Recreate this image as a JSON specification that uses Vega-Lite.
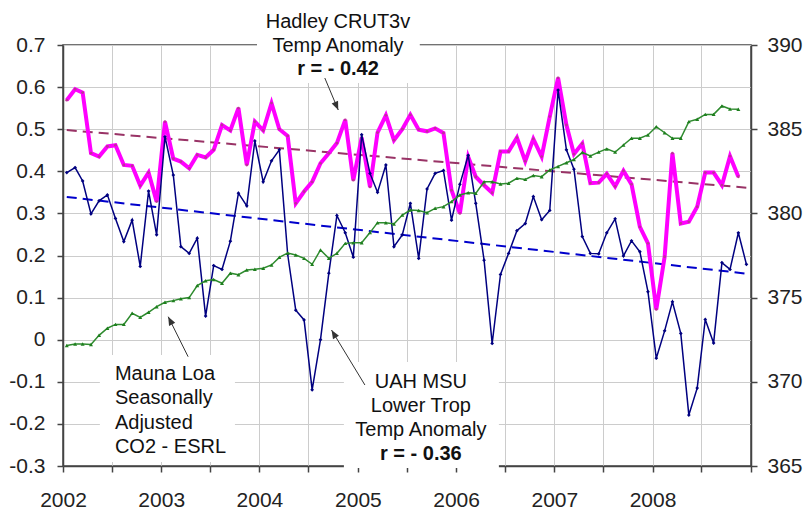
{
  "$schema": "https://vega.github.io/schema/vega-lite/v6.json",
  "width": 688,
  "height": 421,
  "autosize": {"type": "none"},
  "padding": {"left": 63, "top": 45, "right": 55, "bottom": 46},
  "background": "white",
  "config": {
    "view": {"stroke": "#444", "strokeWidth": 1.5},
    "axis": {"labelFont": "Liberation Sans", "labelFontSize": 21, "labelColor": "#222", "domainColor": "#444", "domainWidth": 1.5, "tickColor": "#444", "tickWidth": 1.5, "tickSize": 6, "gridColor": "#cccccc", "gridWidth": 1},
    "text": {"font": "Liberation Sans", "fontSize": 20, "color": "#111"}
  },
  "datasets": {
    "hadley": [
      {"date":"2002-01-15","value":0.569},{"date":"2002-02-15","value":0.595},{"date":"2002-03-15","value":0.587},{"date":"2002-04-15","value":0.443},{"date":"2002-05-15","value":0.435},{"date":"2002-06-15","value":0.459},{"date":"2002-07-15","value":0.462},{"date":"2002-08-15","value":0.415},{"date":"2002-09-15","value":0.413},{"date":"2002-10-15","value":0.366},{"date":"2002-11-15","value":0.397},{"date":"2002-12-15","value":0.328},
      {"date":"2003-01-15","value":0.518},{"date":"2003-02-15","value":0.430},{"date":"2003-03-15","value":0.423},{"date":"2003-04-15","value":0.407},{"date":"2003-05-15","value":0.439},{"date":"2003-06-15","value":0.433},{"date":"2003-07-15","value":0.451},{"date":"2003-08-15","value":0.510},{"date":"2003-09-15","value":0.497},{"date":"2003-10-15","value":0.550},{"date":"2003-11-15","value":0.415},{"date":"2003-12-15","value":0.518},
      {"date":"2004-01-15","value":0.497},{"date":"2004-02-15","value":0.562},{"date":"2004-03-15","value":0.500},{"date":"2004-04-15","value":0.484},{"date":"2004-05-15","value":0.324},{"date":"2004-06-15","value":0.352},{"date":"2004-07-15","value":0.375},{"date":"2004-08-15","value":0.419},{"date":"2004-09-15","value":0.443},{"date":"2004-10-15","value":0.467},{"date":"2004-11-15","value":0.522},{"date":"2004-12-15","value":0.379},
      {"date":"2005-01-15","value":0.480},{"date":"2005-02-15","value":0.363},{"date":"2005-03-15","value":0.492},{"date":"2005-04-15","value":0.533},{"date":"2005-05-15","value":0.474},{"date":"2005-06-15","value":0.500},{"date":"2005-07-15","value":0.534},{"date":"2005-08-15","value":0.499},{"date":"2005-09-15","value":0.495},{"date":"2005-10-15","value":0.502},{"date":"2005-11-15","value":0.491},{"date":"2005-12-15","value":0.355},
      {"date":"2006-01-15","value":0.300},{"date":"2006-02-15","value":0.434},{"date":"2006-03-15","value":0.387},{"date":"2006-04-15","value":0.367},{"date":"2006-05-15","value":0.349},{"date":"2006-06-15","value":0.447},{"date":"2006-07-15","value":0.447},{"date":"2006-08-15","value":0.480},{"date":"2006-09-15","value":0.424},{"date":"2006-10-15","value":0.477},{"date":"2006-11-15","value":0.435},{"date":"2006-12-15","value":0.530},
      {"date":"2007-01-15","value":0.622},{"date":"2007-02-15","value":0.510},{"date":"2007-03-15","value":0.441},{"date":"2007-04-15","value":0.466},{"date":"2007-05-15","value":0.372},{"date":"2007-06-15","value":0.373},{"date":"2007-07-15","value":0.394},{"date":"2007-08-15","value":0.364},{"date":"2007-09-15","value":0.401},{"date":"2007-10-15","value":0.369},{"date":"2007-11-15","value":0.268},{"date":"2007-12-15","value":0.229},
      {"date":"2008-01-15","value":0.072},{"date":"2008-02-15","value":0.197},{"date":"2008-03-15","value":0.443},{"date":"2008-04-15","value":0.276},{"date":"2008-05-15","value":0.280},{"date":"2008-06-15","value":0.316},{"date":"2008-07-15","value":0.397},{"date":"2008-08-15","value":0.397},{"date":"2008-09-15","value":0.367},{"date":"2008-10-15","value":0.436},{"date":"2008-11-15","value":0.387}
    ],
    "uah": [
      {"date":"2002-01-15","value":0.397},{"date":"2002-02-15","value":0.409},{"date":"2002-03-15","value":0.377},{"date":"2002-04-15","value":0.299},{"date":"2002-05-15","value":0.330},{"date":"2002-06-15","value":0.344},{"date":"2002-07-15","value":0.288},{"date":"2002-08-15","value":0.233},{"date":"2002-09-15","value":0.284},{"date":"2002-10-15","value":0.174},{"date":"2002-11-15","value":0.353},{"date":"2002-12-15","value":0.249},
      {"date":"2003-01-15","value":0.482},{"date":"2003-02-15","value":0.391},{"date":"2003-03-15","value":0.221},{"date":"2003-04-15","value":0.205},{"date":"2003-05-15","value":0.241},{"date":"2003-06-15","value":0.056},{"date":"2003-07-15","value":0.176},{"date":"2003-08-15","value":0.167},{"date":"2003-09-15","value":0.234},{"date":"2003-10-15","value":0.348},{"date":"2003-11-15","value":0.318},{"date":"2003-12-15","value":0.472},
      {"date":"2004-01-15","value":0.375},{"date":"2004-02-15","value":0.425},{"date":"2004-03-15","value":0.451},{"date":"2004-04-15","value":0.203},{"date":"2004-05-15","value":0.070},{"date":"2004-06-15","value":0.047},{"date":"2004-07-15","value":-0.119},{"date":"2004-08-15","value":0.000},{"date":"2004-09-15","value":0.158},{"date":"2004-10-15","value":0.295},{"date":"2004-11-15","value":0.254},{"date":"2004-12-15","value":0.196},
      {"date":"2005-01-15","value":0.487},{"date":"2005-02-15","value":0.395},{"date":"2005-03-15","value":0.350},{"date":"2005-04-15","value":0.415},{"date":"2005-05-15","value":0.221},{"date":"2005-06-15","value":0.249},{"date":"2005-07-15","value":0.324},{"date":"2005-08-15","value":0.193},{"date":"2005-09-15","value":0.358},{"date":"2005-10-15","value":0.395},{"date":"2005-11-15","value":0.402},{"date":"2005-12-15","value":0.284},
      {"date":"2006-01-15","value":0.369},{"date":"2006-02-15","value":0.438},{"date":"2006-03-15","value":0.324},{"date":"2006-04-15","value":0.189},{"date":"2006-05-15","value":-0.009},{"date":"2006-06-15","value":0.155},{"date":"2006-07-15","value":0.205},{"date":"2006-08-15","value":0.259},{"date":"2006-09-15","value":0.276},{"date":"2006-10-15","value":0.340},{"date":"2006-11-15","value":0.285},{"date":"2006-12-15","value":0.307},
      {"date":"2007-01-15","value":0.593},{"date":"2007-02-15","value":0.451},{"date":"2007-03-15","value":0.405},{"date":"2007-04-15","value":0.245},{"date":"2007-05-15","value":0.205},{"date":"2007-06-15","value":0.204},{"date":"2007-07-15","value":0.254},{"date":"2007-08-15","value":0.287},{"date":"2007-09-15","value":0.199},{"date":"2007-10-15","value":0.235},{"date":"2007-11-15","value":0.209},{"date":"2007-12-15","value":0.114},
      {"date":"2008-01-15","value":-0.044},{"date":"2008-02-15","value":0.021},{"date":"2008-03-15","value":0.090},{"date":"2008-04-15","value":0.015},{"date":"2008-05-15","value":-0.179},{"date":"2008-06-15","value":-0.115},{"date":"2008-07-15","value":0.048},{"date":"2008-08-15","value":-0.008},{"date":"2008-09-15","value":0.183},{"date":"2008-10-15","value":0.167},{"date":"2008-11-15","value":0.254},{"date":"2008-12-15","value":0.179}
    ],
    "co2": [
      {"date":"2002-01-15","ppm":372.15},{"date":"2002-02-15","ppm":372.24},{"date":"2002-03-15","ppm":372.24},{"date":"2002-04-15","ppm":372.22},{"date":"2002-05-15","ppm":372.76},{"date":"2002-06-15","ppm":373.18},{"date":"2002-07-15","ppm":373.41},{"date":"2002-08-15","ppm":373.41},{"date":"2002-09-15","ppm":374.07},{"date":"2002-10-15","ppm":373.83},{"date":"2002-11-15","ppm":374.13},{"date":"2002-12-15","ppm":374.46},
      {"date":"2003-01-15","ppm":374.72},{"date":"2003-02-15","ppm":374.82},{"date":"2003-03-15","ppm":374.93},{"date":"2003-04-15","ppm":375.00},{"date":"2003-05-15","ppm":375.72},{"date":"2003-06-15","ppm":376.00},{"date":"2003-07-15","ppm":376.07},{"date":"2003-08-15","ppm":375.85},{"date":"2003-09-15","ppm":376.45},{"date":"2003-10-15","ppm":376.36},{"date":"2003-11-15","ppm":376.64},{"date":"2003-12-15","ppm":376.68},
      {"date":"2004-01-15","ppm":376.74},{"date":"2004-02-15","ppm":376.94},{"date":"2004-03-15","ppm":377.39},{"date":"2004-04-15","ppm":377.65},{"date":"2004-05-15","ppm":377.53},{"date":"2004-06-15","ppm":377.33},{"date":"2004-07-15","ppm":376.98},{"date":"2004-08-15","ppm":377.83},{"date":"2004-09-15","ppm":377.33},{"date":"2004-10-15","ppm":377.63},{"date":"2004-11-15","ppm":378.22},{"date":"2004-12-15","ppm":378.26},
      {"date":"2005-01-15","ppm":378.26},{"date":"2005-02-15","ppm":378.86},{"date":"2005-03-15","ppm":379.45},{"date":"2005-04-15","ppm":379.45},{"date":"2005-05-15","ppm":379.37},{"date":"2005-06-15","ppm":379.90},{"date":"2005-07-15","ppm":380.20},{"date":"2005-08-15","ppm":380.17},{"date":"2005-09-15","ppm":380.04},{"date":"2005-10-15","ppm":380.30},{"date":"2005-11-15","ppm":380.40},{"date":"2005-12-15","ppm":380.70},
      {"date":"2006-01-15","ppm":381.09},{"date":"2006-02-15","ppm":381.23},{"date":"2006-03-15","ppm":381.19},{"date":"2006-04-15","ppm":381.88},{"date":"2006-05-15","ppm":381.88},{"date":"2006-06-15","ppm":381.75},{"date":"2006-07-15","ppm":381.79},{"date":"2006-08-15","ppm":382.08},{"date":"2006-09-15","ppm":382.02},{"date":"2006-10-15","ppm":382.25},{"date":"2006-11-15","ppm":382.18},{"date":"2006-12-15","ppm":382.58},
      {"date":"2007-01-15","ppm":382.79},{"date":"2007-02-15","ppm":383.01},{"date":"2007-03-15","ppm":383.20},{"date":"2007-04-15","ppm":383.62},{"date":"2007-05-15","ppm":383.41},{"date":"2007-06-15","ppm":383.64},{"date":"2007-07-15","ppm":383.83},{"date":"2007-08-15","ppm":383.64},{"date":"2007-09-15","ppm":384.06},{"date":"2007-10-15","ppm":384.46},{"date":"2007-11-15","ppm":384.46},{"date":"2007-12-15","ppm":384.66},
      {"date":"2008-01-15","ppm":385.15},{"date":"2008-02-15","ppm":384.79},{"date":"2008-03-15","ppm":384.46},{"date":"2008-04-15","ppm":384.46},{"date":"2008-05-15","ppm":385.45},{"date":"2008-06-15","ppm":385.59},{"date":"2008-07-15","ppm":385.88},{"date":"2008-08-15","ppm":385.88},{"date":"2008-09-15","ppm":386.38},{"date":"2008-10-15","ppm":386.20},{"date":"2008-11-15","ppm":386.18}
    ],
    "trend": [
      {"series":"Hadley trend","date":"2002-01-15","value":0.498},{"series":"Hadley trend","date":"2008-12-15","value":0.361},
      {"series":"UAH trend","date":"2002-01-15","value":0.339},{"series":"UAH trend","date":"2008-12-15","value":0.157}
    ],
    "boxes": [
      {"date":"2003-12-23","date2":"2005-08-19","value":0.8069,"value2":0.6097},
      {"date":"2004-11-10","date2":"2006-06-09","value":-0.053,"value2":-0.3048},
      {"date":"2002-05-18","date2":"2003-10-02","value":-0.0363,"value2":-0.2905}
    ],
    "arrows": [
      {"name":"hadley","date":"2004-10-20","value":0.5456,"date2":"2004-08-31","value2":0.6216},
      {"name":"co2","date":"2003-01-27","value":0.0546,"date2":"2003-04-11","value2":-0.0404},
      {"name":"uah","date":"2004-09-25","value":0.023,"date2":"2005-01-27","value2":-0.1076}
    ],
    "notes_c": [
      {"label":"Hadley CRUT3v","date":"2004-10-19","value":0.7404},
      {"label":"Temp Anomaly","date":"2004-10-19","value":0.6834},
      {"label":"UAH MSU","date":"2005-08-23","value":-0.1147},
      {"label":"Lower Trop","date":"2005-08-23","value":-0.1717},
      {"label":"Temp Anomaly","date":"2005-08-23","value":-0.2287}
    ],
    "notes_r": [
      {"label":"r = - 0.42","date":"2004-10-19","value":0.6287},
      {"label":"r = - 0.36","date":"2005-08-23","value":-0.2857}
    ],
    "notes_l": [
      {"label":"Mauna Loa","date":"2002-07-13","value":-0.0957},
      {"label":"Seasonally","date":"2002-07-13","value":-0.1539},
      {"label":"Adjusted","date":"2002-07-13","value":-0.2121},
      {"label":"CO2 - ESRL","date":"2002-07-13","value":-0.2691}
    ]
  },
  "encoding": {
    "x": {
      "field": "date", "type": "temporal",
      "scale": {"type": "utc", "domain": [1009843200000, 1230768000000], "nice": false},
      "axis": {"title": null, "grid": true, "tickCount": {"interval": "month", "step": 6}, "labelExpr": "utcmonth(datum.value) == 0 && utcyear(datum.value) < 2009 ? utcFormat(datum.value, '%Y') : ''", "labelFlush": false, "labelOverlap": false, "labelPadding": 17}
    }
  },
  "resolve": {"scale": {"y": "independent"}},
  "layer": [
    {
      "encoding": {
        "y": {
          "field": "value", "type": "quantitative",
          "scale": {"domain": [-0.3, 0.7], "nice": false, "zero": false},
          "axis": {"title": null, "orient": "left", "grid": true, "values": [-0.3, -0.2, -0.1, 0, 0.1, 0.2, 0.3, 0.4, 0.5, 0.6, 0.7], "labelPadding": 12, "labelExpr": "datum.value == 0 ? '0' : (datum.value < 0 ? '-' + format(-datum.value, '.1f') : format(datum.value, '.1f'))"}
        }
      },
      "layer": [
        {
          "data": {"name": "trend"},
          "mark": {"type": "line", "strokeWidth": 2, "strokeDash": [10, 6]},
          "encoding": {"color": {"field": "series", "type": "nominal", "scale": {"domain": ["Hadley trend", "UAH trend"], "range": ["#993366", "#0000cc"]}, "legend": null}}
        },
        {
          "data": {"name": "hadley"},
          "mark": {"type": "line", "color": "#ff00ff", "strokeWidth": 4, "point": {"filled": true, "size": 8, "color": "#c0309a"}}
        },
        {
          "data": {"name": "uah"},
          "mark": {"type": "line", "color": "#000080", "strokeWidth": 1.5, "point": {"shape": "diamond", "filled": true, "size": 14, "color": "#000080"}}
        },
        {
          "data": {"name": "boxes"},
          "mark": {"type": "rect", "color": "white", "opacity": 1},
          "encoding": {"x2": {"field": "date2"}, "y2": {"field": "value2"}}
        },
        {
          "data": {"name": "arrows"},
          "mark": {"type": "rule", "color": "#333", "strokeWidth": 1},
          "encoding": {"x2": {"field": "date2"}, "y2": {"field": "value2"}}
        },
        {
          "data": {"name": "arrows"},
          "transform": [{"filter": {"field": "name", "equal": "hadley"}}],
          "mark": {"type": "point", "shape": "M0,0L-0.4,1L0.4,1Z", "filled": true, "size": 300, "color": "#333", "opacity": 1, "angle": 157}
        },
        {
          "data": {"name": "arrows"},
          "transform": [{"filter": {"field": "name", "equal": "co2"}}],
          "mark": {"type": "point", "shape": "M0,0L-0.4,1L0.4,1Z", "filled": true, "size": 300, "color": "#333", "opacity": 1, "angle": 333}
        },
        {
          "data": {"name": "arrows"},
          "transform": [{"filter": {"field": "name", "equal": "uah"}}],
          "mark": {"type": "point", "shape": "M0,0L-0.4,1L0.4,1Z", "filled": true, "size": 300, "color": "#333", "opacity": 1, "angle": 329}
        },
        {
          "data": {"name": "notes_c"},
          "mark": {"type": "text", "align": "center", "baseline": "alphabetic"},
          "encoding": {"text": {"field": "label"}}
        },
        {
          "data": {"name": "notes_r"},
          "mark": {"type": "text", "align": "center", "baseline": "alphabetic", "fontWeight": "bold"},
          "encoding": {"text": {"field": "label"}}
        },
        {
          "data": {"name": "notes_l"},
          "mark": {"type": "text", "align": "left", "baseline": "alphabetic"},
          "encoding": {"text": {"field": "label"}}
        }
      ]
    },
    {
      "data": {"name": "co2"},
      "mark": {"type": "line", "color": "#2e8b2e", "strokeWidth": 1.5, "point": {"shape": "triangle-up", "filled": true, "size": 16, "color": "#1f7f1f"}},
      "encoding": {
        "y": {
          "field": "ppm", "type": "quantitative",
          "scale": {"domain": [365, 390], "nice": false, "zero": false},
          "axis": {"title": null, "orient": "right", "grid": false, "values": [365, 370, 375, 380, 385, 390], "labelPadding": 10}
        }
      }
    }
  ]
}
